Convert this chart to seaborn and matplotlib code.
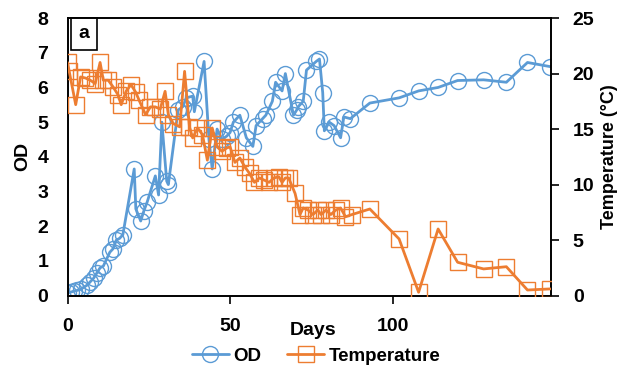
import numpy as np
import pandas as pd
import seaborn as sns
import matplotlib.pyplot as plt
from matplotlib.lines import Line2D

od_days = [0, 1, 2, 3, 4, 6, 7, 8, 9, 10, 11, 13, 14, 15, 16, 17, 20.5, 21, 22.5, 23.5,
           24.5, 27, 28, 29, 30.5, 31, 34, 35.5, 36.5, 38.5, 39, 42, 43.5, 44.5, 46,
           47.5, 49, 50, 51, 53, 55, 57, 58, 60, 61, 63, 64, 66, 67, 69.5, 70.5, 71,
           72.5, 73.5, 76.5, 77.5, 78.5, 79, 80.5, 82, 84, 85, 87, 93, 102, 108, 114,
           120, 128, 135, 141.5, 148.5]
od_values = [0.08, 0.1, 0.13, 0.15, 0.18, 0.3, 0.4, 0.5, 0.65, 0.8, 0.85, 1.25, 1.35, 1.6,
             1.65, 1.75, 3.65, 2.5, 2.15, 2.45, 2.7, 3.45, 2.9, 5.0, 3.3, 3.2, 5.35, 5.45,
             5.7, 5.75, 5.3, 6.75, 4.5, 3.65, 4.8, 4.5, 4.6, 4.7, 5.0, 5.2, 4.55, 4.3, 4.9,
             5.1, 5.2, 5.6, 6.15, 5.9, 6.4, 5.2, 5.35, 5.45, 5.6, 6.5, 6.75, 6.82, 5.85,
             4.75, 5.0, 4.9, 4.55, 5.15, 5.1, 5.55, 5.7, 5.9, 6.0, 6.2, 6.22, 6.15, 6.72, 6.6]

temp_days = [0, 0.5, 2.5, 4, 5.5, 7, 8.5, 10, 11, 12.5, 14, 15.5, 16.5, 18, 19.5, 21, 22,
             24, 25.5, 27, 28.5, 30, 31, 32.5, 34.5, 36, 37.5, 38.5, 40, 41.5, 43, 44.5,
             46, 47.5, 49, 50, 51.5, 53, 54.5, 56, 57.5, 59, 60.5, 62, 63.5, 65, 66, 67,
             68, 70, 71.5, 72.5, 74, 75.5, 77, 78, 79.5, 81, 82.5, 84, 85.5, 87.5, 93,
             102, 108, 114, 120, 128, 135, 141.5, 148.5]
temp_values = [21.0, 20.2, 17.2, 19.7, 19.6, 19.4, 19.1, 21.0, 19.4, 19.4, 18.8, 18.1, 17.2,
               18.4, 19.0, 18.3, 17.6, 16.3, 17.0, 17.0, 16.8, 18.4, 16.3, 15.5, 15.2, 20.2,
               15.2, 14.2, 15.1, 14.5, 12.2, 15.1, 13.4, 13.0, 13.3, 13.4, 12.0, 12.4, 11.6,
               11.0, 10.2, 10.6, 10.4, 10.2, 10.6, 10.7, 10.2, 10.6, 10.6, 9.2, 7.3, 7.9,
               7.7, 7.3, 7.7, 7.3, 7.7, 7.3, 7.7, 7.9, 7.1, 7.3, 7.8, 5.1, 0.3, 6.0, 3.0,
               2.4, 2.6, 0.5, 0.6]

blue = "#5B9BD5"
orange = "#ED7D31"

sns.set_style("white")
plt.rcParams["font.family"] = ["Liberation Sans", "DejaVu Sans"]
plt.rcParams["font.weight"] = "bold"
plt.rcParams["text.color"] = "black"
plt.rcParams["axes.labelcolor"] = "black"

fig = plt.figure(figsize=(6.2, 3.69), dpi=100)
ax = fig.add_axes([0.109, 0.199, 0.779, 0.752])
ax2 = ax.twinx()

od_df = pd.DataFrame({"Days": od_days, "OD": od_values})
temp_df = pd.DataFrame({"Days": temp_days, "Temperature": temp_values})

sns.lineplot(data=od_df, x="Days", y="OD", ax=ax, color=blue, lw=2, estimator=None,
             marker="o", markersize=11.5, markerfacecolor="none", markeredgecolor=blue,
             markeredgewidth=1.0, zorder=2)
sns.lineplot(data=temp_df, x="Days", y="Temperature", ax=ax2, color=orange, lw=2,
             estimator=None, marker="s", markersize=11.5, markerfacecolor="none",
             markeredgecolor=orange, markeredgewidth=1.0, zorder=3)

ax.set_xlim(0, 148.6)
ax.set_ylim(0, 8)
ax2.set_ylim(0, 25)
ax.set_xticks([0, 50, 100])
ax.set_yticks(range(0, 9))
ax2.set_yticks(range(0, 26, 5))

fs = 14
for a in (ax, ax2):
    for s in a.spines.values():
        s.set_color("black")
        s.set_linewidth(1.2)
    a.tick_params(labelsize=fs, colors="black")
    for lbl in a.get_xticklabels() + a.get_yticklabels():
        lbl.set_fontweight("bold")

ax.tick_params(axis="x", direction="out", length=6, width=1.2, bottom=True, pad=10)
ax.tick_params(axis="y", length=0, pad=14)
ax2.tick_params(axis="y", direction="out", length=6, width=1.2, right=True, pad=10)

ax.set_xlabel("Days", fontsize=fs, fontweight="bold")
ax.set_ylabel("OD", fontsize=fs, fontweight="bold", labelpad=4)
ax2.set_ylabel("Temperature (°C)", fontsize=13, fontweight="bold", labelpad=5)
ax.xaxis.set_label_coords(0.508, -0.095)

ax.text(0.034, 0.943, "a", transform=ax.transAxes, fontsize=fs, fontweight="bold",
        ha="center", va="center",
        bbox=dict(boxstyle="square,pad=0.4", fc="white", ec="black", lw=1.2))

handles = [
    Line2D([], [], color=blue, lw=2, marker="o", markersize=11.5, markerfacecolor="none",
           markeredgewidth=1.0),
    Line2D([], [], color=orange, lw=2, marker="s", markersize=11.5, markerfacecolor="none",
           markeredgewidth=1.0),
]
fig.legend(handles, ["OD", "Temperature"], loc="lower center", ncol=2, frameon=False,
           bbox_to_anchor=(0.51, -0.035), prop={"size": 13.5, "weight": "bold"},
           handlelength=1.95, columnspacing=1.4, handletextpad=0.25)

fig.savefig("out.png", dpi=100)
